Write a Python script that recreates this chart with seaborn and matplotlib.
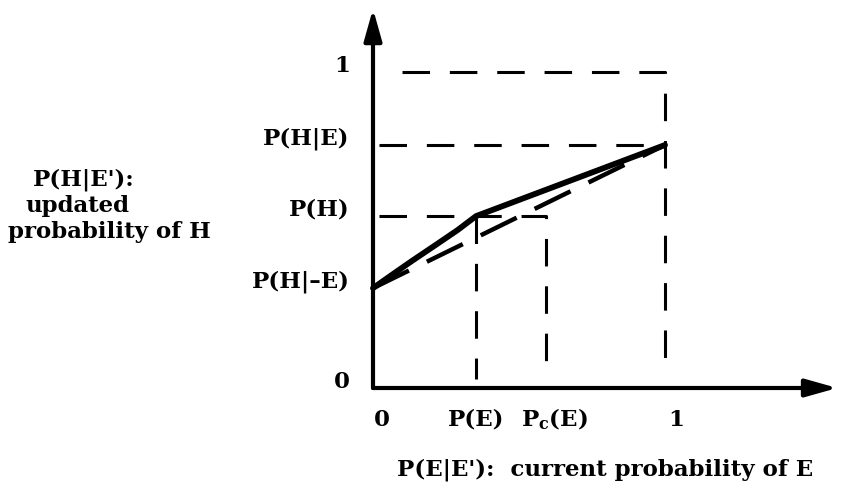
import numpy as np
import pandas as pd
import matplotlib
matplotlib.use("Agg")
import matplotlib.pyplot as plt
import seaborn as sns

# key probabilities (in axis units 0..1)
p_h_not_e = 0.316   # P(H|-E)
p_h = 0.544         # P(H)
p_h_e = 0.769       # P(H|E)
p_e = 0.353         # P(E)
p_c_e = 0.592       # Pc(E)

# solid curve: updated probability (bends at P(E), P(H))
solid_x = [0.0, 0.06, 0.13, 0.22, 0.29, p_e, 1.0]
solid_y = [p_h_not_e, 0.355, 0.400, 0.456, 0.500, p_h, p_h_e]

# dashed curve: straight line from P(H|-E) to P(H|E)
dash_x = [0.0, 1.0]
dash_y = [p_h_not_e, p_h_e]

y_tick_vals = [1.0, p_h_e, p_h, p_h_not_e, 0.0]
y_tick_labels = ["1", "P(H|E)", "P(H)", "P(H|\u2013E)", "0"]
x_tick_vals = [0.03, p_e, p_c_e + 0.03, 1.04]
x_tick_labels = ["0", "P(E)", r"P$_\mathrm{c}$(E)", "1"]

sns.set_theme(style="white")
plt.rcParams["font.family"] = ["DejaVu Serif"]
plt.rcParams["mathtext.fontset"] = "custom"
plt.rcParams["mathtext.rm"] = "DejaVu Serif:bold"

fig = plt.figure(figsize=(8.45, 4.93), dpi=100)
ax = fig.add_axes([0, 0, 1, 1])
# pixel mapping: x=0 -> 373px, x=1 -> 665px ; y=0 -> 388px, y=1 -> 72px
ax.set_xlim(-373 / 292, (845 - 373) / 292)
ax.set_ylim((388 - 493) / 316, 388 / 316)
ax.axis("off")

ink = "black"
dash_kw = dict(color=ink, lw=2.2, dashes=(9, 6.5), solid_capstyle="butt")

# axes with arrows
ax.annotate("", xy=(0, 1.20), xytext=(0, 0),
            arrowprops=dict(arrowstyle="-|>,head_length=1.6,head_width=0.45",
                            color=ink, lw=3, shrinkA=0, shrinkB=0))
ax.annotate("", xy=(1.59, 0), xytext=(0, 0),
            arrowprops=dict(arrowstyle="-|>,head_length=1.6,head_width=0.45",
                            color=ink, lw=3, shrinkA=0, shrinkB=0))

# dashed guide lines
ax.plot([0.1, 1.0, 1.0], [1.0, 1.0, 0.09], **dash_kw)
ax.plot([0.02, 1.0], [p_h_e, p_h_e], **dash_kw)
ax.plot([0.02, p_c_e, p_c_e], [p_h, p_h, 0.03], **dash_kw)
ax.plot([p_e, p_e], [p_h, 0.03], **dash_kw)

# curves
sns.lineplot(x=dash_x, y=dash_y, ax=ax, color=ink, lw=3.2,
             dashes=False, linestyle=(0, (9, 4.5)))
sns.lineplot(x=solid_x, y=solid_y, ax=ax, color=ink, lw=4.2)

fs = 16.5
# tick labels
for v, t in zip(y_tick_vals, y_tick_labels):
    ax.text(-0.08, v + 0.02, t, ha="right", va="center",
            fontsize=fs, fontweight="bold", color=ink)
for v, t in zip(x_tick_vals, x_tick_labels):
    ax.text(v, -0.1, t, ha="center", va="center",
            fontsize=fs, fontweight="bold", color=ink)

# axis titles
ax.text((605 - 373) / 292, (388 - 470) / 316,
        "P(E|E'):  current probability of E",
        ha="center", va="center", fontsize=fs, fontweight="bold", color=ink)
ylab = ["P(H|E'):", "updated", "probability of H"]
ylab_x = [33, 25, 8]
ylab_y = [180, 206, 232]
for t, px, py in zip(ylab, ylab_x, ylab_y):
    ax.text((px - 373) / 292, (388 - py) / 316, t, ha="left", va="center",
            fontsize=fs, fontweight="bold", color=ink)

fig.savefig("out.png", dpi=100)
